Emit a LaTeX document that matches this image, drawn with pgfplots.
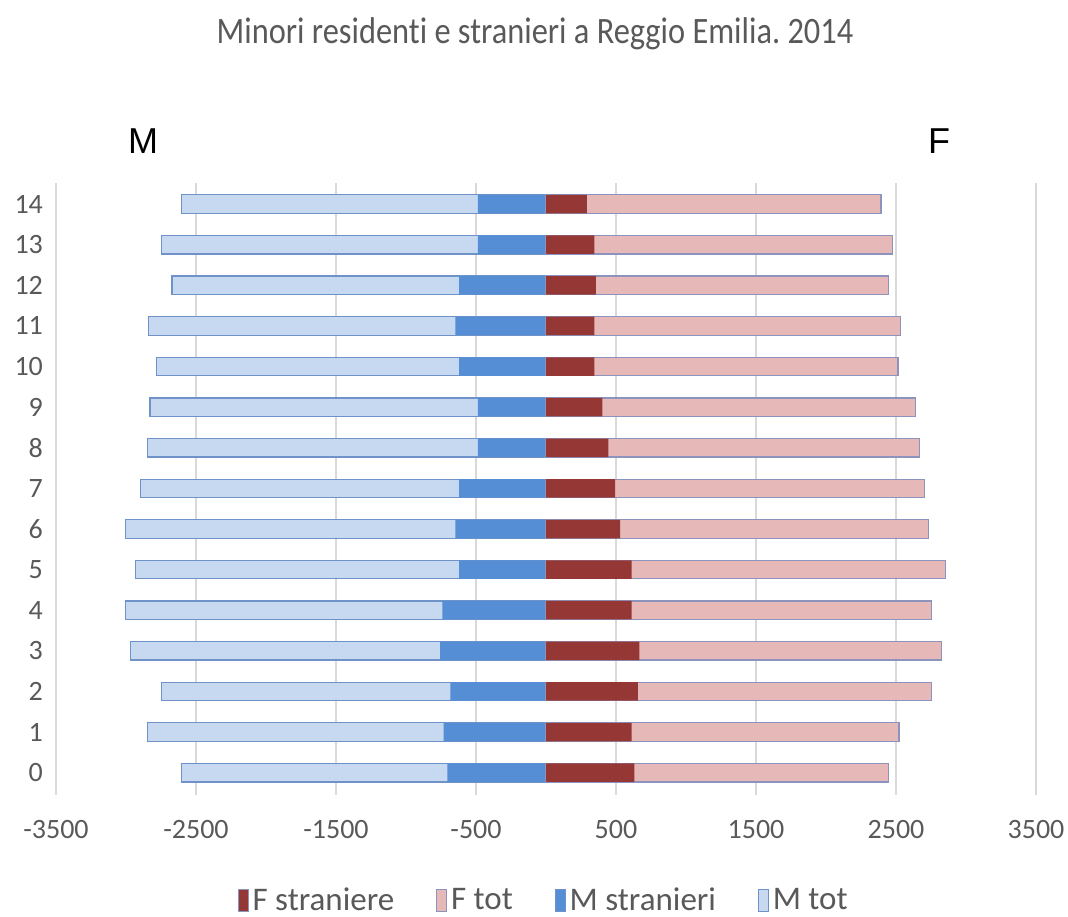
\documentclass[border=0pt]{standalone}
\usepackage{graphicx}
\usepackage{pgfplots}
\pgfplotsset{compat=1.18}
\usepackage{pgfplotstable}
\usepackage{fontspec}
\setmainfont{Carlito}[Ligatures=NoCommon]
\newfontfamily\arialfont{Liberation Sans}
\frenchspacing

\definecolor{fstr}{HTML}{953735}
\definecolor{ftot}{HTML}{E6B9B8}
\definecolor{mstr}{HTML}{558ED5}
\definecolor{mtot}{HTML}{C6D9F1}
\definecolor{edgeb}{HTML}{6F93C8}
\definecolor{edgep}{HTML}{8C93BC}
\definecolor{txt}{HTML}{595959}
\definecolor{gridc}{HTML}{D9D9D9}

% age, M tot, M stranieri, F tot, F straniere
\pgfplotstableread{
age  mtot  mstr  ftot  fstr
0   -2601  -705  2447  631
1   -2849  -731  2521  611
2   -2747  -683  2752  657
3   -2966  -757  2826  667
4   -3005  -741  2752  611
5   -2931  -621  2852  611
6   -3005  -647  2732  530
7   -2895  -621  2705  494
8   -2849  -486  2668  446
9   -2829  -486  2641  403
10  -2783  -621  2514  346
11  -2839  -647  2531  346
12  -2672  -621  2447  356
13  -2747  -486  2476  346
14  -2601  -486  2393  292
}\pyramid

\begin{document}
\begin{tikzpicture}
\useasboundingbox (0,0) rectangle (534pt,458pt);
\begin{axis}[
  at={(28pt,60.5pt)}, anchor=south west,
  scale only axis, width=490pt, height=306pt, clip=false,
  xmin=-3500, xmax=3500, ymin=-0.55, ymax=14.52,
  xtick={-3500,-2500,...,3500}, ytick={0,1,...,14},
  xmajorgrids, major grid style={gridc, line width=0.7pt},
  axis line style={draw=none}, major tick length=0pt,
  /pgf/number format/.cd, 1000 sep={}, assume math mode=true,
  /pgfplots/.cd,
  ticklabel style={font=\fontsize{14}{16}\selectfont, text=txt},
  xticklabel style={yshift=-9pt},
  yticklabel style={xshift=-3pt},
  xbar, bar width=9.25pt, bar shift=0pt,
  title={\scalebox{1}[1.15]{Minori residenti e stranieri a Reggio Emilia. 2014}},
  title style={at={(0.4888,1.208)}, anchor=base, font=\fontsize{16.2}{19}\selectfont, text=txt},
  legend columns=4,
  legend style={at={(0.4987,-0.172)}, anchor=center, draw=none,
    font=\fontsize{16.5}{19}\selectfont, text=txt,
    /tikz/every even column/.append style={column sep=19pt}},
  legend image code/.code={\draw[#1] (0pt,-5.5pt) rectangle (5pt,5.5pt);},
]
\addplot[fill=mtot, draw=edgeb, line width=0.6pt, forget plot] table[x=mtot, y=age]{\pyramid};
\addplot[fill=mstr, draw=none, forget plot] table[x=mstr, y=age]{\pyramid};
\addplot[fill=ftot, draw=edgep, line width=0.6pt, forget plot] table[x=ftot, y=age]{\pyramid};
\addplot[fill=fstr, draw=none, forget plot] table[x=fstr, y=age]{\pyramid};

\addlegendimage{fill=fstr, draw=edgep, line width=0.4pt}
\addlegendentry{F straniere}
\addlegendimage{fill=ftot, draw=edgep, line width=0.4pt}
\addlegendentry{F tot}
\addlegendimage{fill=mstr, draw=edgeb, line width=0.4pt}
\addlegendentry{M stranieri}
\addlegendimage{fill=mtot, draw=edgeb, line width=0.4pt}
\addlegendentry{M tot}

\node[anchor=base, font=\arialfont\fontsize{18}{22}\selectfont, text=black] at (rel axis cs:0.0888,1.049) {M};
\node[anchor=base, font=\arialfont\fontsize{18}{22}\selectfont, text=black] at (rel axis cs:0.901,1.049) {F};
\end{axis}
\end{tikzpicture}
\end{document}
